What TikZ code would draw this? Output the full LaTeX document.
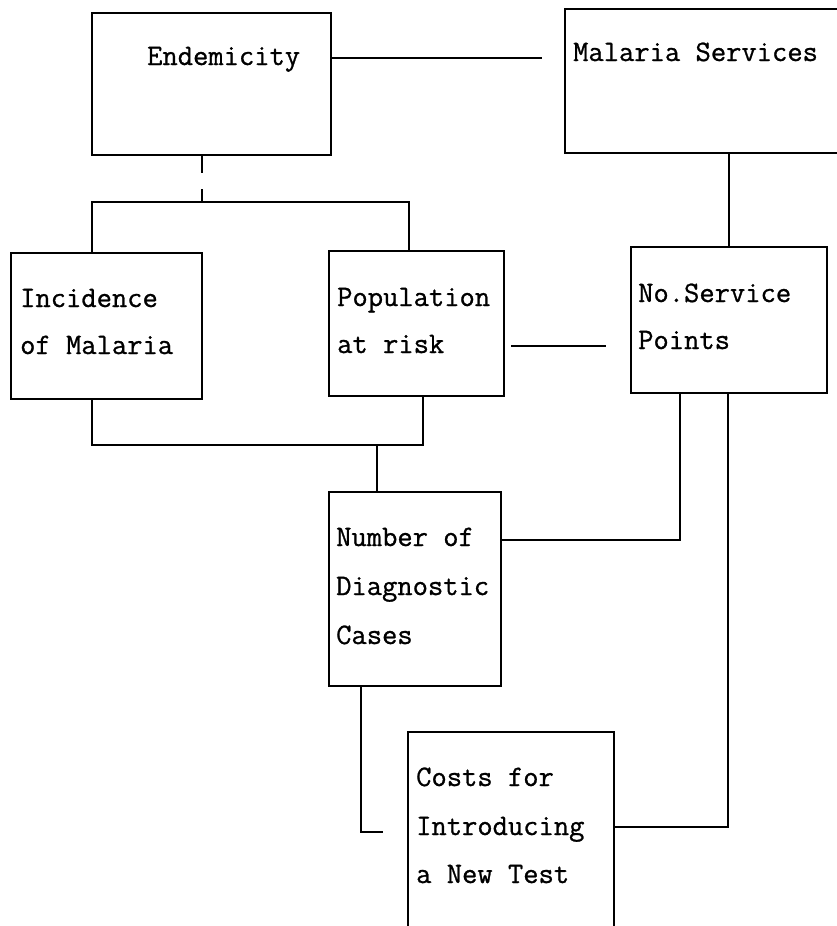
\documentclass[tikz,border=0pt]{standalone}
\usepackage{fontspec}
\newfontfamily\typefont[FakeBold=0.9]{Latin Modern Mono}
\begin{document}
\begin{tikzpicture}[x=1pt,y=-1pt,
  box/.style={draw=black,line width=2.7pt,rectangle,inner sep=0pt},
  ln/.style={draw=black,line width=2.7pt},
  lbl/.style={font=\typefont\fontsize{29.7}{36}\selectfont,inner sep=0pt,anchor=base west,text=black}]
\useasboundingbox (0,0) rectangle (837,926);
\clip (0,0) rectangle (837,926);
% boxes
\node[box,minimum width=239pt,minimum height=142pt] (endem) at (211.5,84) {};
\node[box,minimum width=305pt,minimum height=144pt] (mserv) at (717.5,81) {};
\node[box,minimum width=191pt,minimum height=146pt] (incid) at (106.5,326) {};
\node[box,minimum width=175pt,minimum height=145pt] (popul) at (416.5,323.5) {};
\node[box,minimum width=196pt,minimum height=146pt] (nserv) at (729,320) {};
\node[box,minimum width=172pt,minimum height=194pt] (ndiag) at (415,589) {};
\node[box,minimum width=206pt,minimum height=228pt] (costs) at (511,846) {};
% texts
\node[lbl] (t1) at (147,65) {Endemicity};
\node[lbl] (t2) at (573,61) {Malaria Services};
\node[lbl] (t3a) at (20,307) {Incidence};
\node[lbl] (t3b) at (20,354) {of Malaria};
\node[lbl] (t4a) at (337,306) {Population};
\node[lbl] (t4b) at (337,353) {at risk};
\node[lbl] (t5a) at (638,302) {No.Service};
\node[lbl] (t5b) at (638,349) {Points};
\node[lbl] (t6a) at (336,546) {Number of};
\node[lbl] (t6b) at (336,595) {Diagnostic};
\node[lbl] (t6c) at (336,644) {Cases};
\node[lbl] (t7a) at (416,786) {Costs for};
\node[lbl] (t7b) at (416,835) {Introducing};
\node[lbl] (t7c) at (416,883) {a New Test};
% connectors
\coordinate (e1) at (542,58);
\draw[ln] (endem.east |- e1) -- (e1);
\coordinate (j1) at (202,202);
\draw[ln,dash pattern=on 17pt off 16pt] (endem.south -| j1) -- (j1);
\coordinate (j1l) at (92,202);
\coordinate (j1r) at (409,202);
\draw[ln] (incid.north -| j1l) -- (j1l) -- (j1r) -- (popul.north -| j1r);
\coordinate (c2) at (729,200);
\draw[ln] (mserv.south -| c2) -- (nserv.north -| c2);
\coordinate (p1) at (511,346);
\coordinate (p2) at (606,346);
\draw[ln] (p1) -- (p2);
\coordinate (b1) at (92,445);
\coordinate (b2) at (423,445);
\draw[ln] (incid.south -| b1) -- (b1) -- (b2) -- (popul.south -| b2);
\coordinate (b3) at (377,445);
\draw[ln] (b3) -- (ndiag.north -| b3);
\coordinate (d1) at (680,540);
\draw[ln] (ndiag.east |- d1) -- (d1) -- (nserv.south -| d1);
\coordinate (d2) at (361,832);
\coordinate (d3) at (383,832);
\draw[ln] (ndiag.south -| d2) -- (d2) -- (d3);
\coordinate (d4) at (728,827);
\draw[ln] (costs.east |- d4) -- (d4) -- (nserv.south -| d4);
\end{tikzpicture}
\end{document}
